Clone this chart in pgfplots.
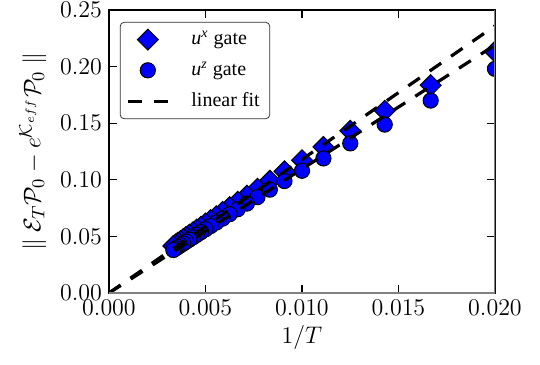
\documentclass[border=0pt]{standalone}
\usepackage{fontspec}
\setmainfont{Liberation Serif}
\usepackage{pgfplots}
\pgfplotsset{compat=1.18}
\definecolor{mblue}{RGB}{0,0,255}
\pgfplotstableread{
x ux uz
0.0200000 0.2132 0.1980
0.0166667 0.1836 0.1700
0.0142857 0.1610 0.1488
0.0125000 0.1433 0.1322
0.0111111 0.1290 0.1189
0.0100000 0.1173 0.1080
0.0090909 0.1075 0.0989
0.0083333 0.0992 0.0913
0.0076923 0.0921 0.0847
0.0071429 0.0860 0.0790
0.0066667 0.0806 0.0740
0.0062500 0.0758 0.0696
0.0058824 0.0716 0.0657
0.0055556 0.0678 0.0622
0.0052632 0.0644 0.0591
0.0050000 0.0613 0.0563
0.0047619 0.0585 0.0537
0.0045455 0.0560 0.0513
0.0043478 0.0536 0.0492
0.0041667 0.0515 0.0472
0.0040000 0.0495 0.0454
0.0038462 0.0476 0.0437
0.0037037 0.0459 0.0421
0.0035714 0.0444 0.0406
0.0034483 0.0429 0.0393
0.0033333 0.0415 0.0380
}\datatable
\begin{document}
\begin{tikzpicture}
\begin{axis}[
  scale only axis, width=193pt, height=141.5pt,
  xmin=0, xmax=0.02, ymin=0, ymax=0.25,
  clip marker paths=true,
  xtick={0,0.005,0.01,0.015,0.02},
  ytick={0,0.05,0.1,0.15,0.2,0.25},
  scaled x ticks=false, scaled y ticks=false,
  xticklabel style={/pgf/number format/.cd, fixed, fixed zerofill, precision=3},
  yticklabel style={/pgf/number format/.cd, fixed, fixed zerofill, precision=2},
  tick align=inside, major tick length=4pt,
  tick style={black, line width=0.6pt},
  ticklabel style={font=\fontsize{11.5}{13}\selectfont},
  axis line style={line width=0.7pt},
  xlabel={$1/T$},
  ylabel={$\|\;\mathcal{E}_T\mathcal{P}_0 - e^{\mathcal{K}_{eff}}\mathcal{P}_0\;\|$},
  label style={font=\fontsize{12.5}{14}\selectfont},
  xlabel style={yshift=2pt},
  legend image code/.code={\draw[mark repeat=2, mark phase=2, #1] plot coordinates {(0pt,0pt) (10pt,0pt) (20pt,0pt)};},
  legend style={at={(0.028,0.958)}, anchor=north west, rounded corners=2pt,
    draw=black!80, font=\rmfamily\fontsize{10}{12}\selectfont, inner xsep=3pt, inner ysep=2.5pt,
    row sep=3pt, /tikz/every odd column/.append style={column sep=9pt}},
  legend cell align=left,
]
\addplot[only marks, mark=square*, mark size=3.7pt, mark options={rotate=45, fill=mblue, draw=black, line width=0.5pt}]
  table[x=x, y=ux] {\datatable};
\addlegendentry{\textit{u}\textsuperscript{\textit{x}} gate}
\addplot[only marks, mark=*, mark size=3.8pt, mark options={fill=mblue, draw=black, line width=0.5pt}]
  table[x=x, y=uz] {\datatable};
\addlegendentry{\textit{u}\textsuperscript{\textit{z}} gate}
\addplot[black, line width=1.6pt, dash pattern=on 7pt off 6pt] coordinates {(0,0) (0.02,0.236)};
\addlegendentry{linear fit}
\addplot[black, line width=1.6pt, dash pattern=on 7pt off 6pt, forget plot] coordinates {(0,0) (0.02,0.219)};
\draw[gray, line width=0.8pt] (rel axis cs:0,0) -- (rel axis cs:1,0) -- (rel axis cs:1,1);
\end{axis}
\pgfresetboundingbox
\path ([shift={(-54.5pt,-35.5pt)}]current axis.south west) rectangle ([shift={(22.5pt,5pt)}]current axis.north east);
\end{tikzpicture}
\end{document}
